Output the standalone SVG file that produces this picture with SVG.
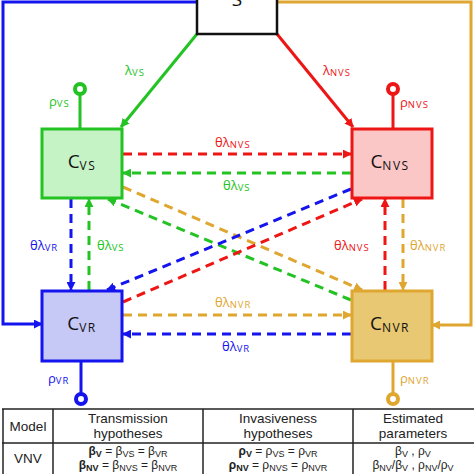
<svg xmlns="http://www.w3.org/2000/svg" width="474" height="474" viewBox="0 0 474 474">
<defs>
<style>
.g{stroke:#22c322}.r{stroke:#ee1515}.b{stroke:#1414ee}.y{stroke:#dfa630}
.ln{fill:none;stroke-width:3}
.d{stroke-dasharray:9 6}
.tg{fill:#22c322}.tr{fill:#ee1515}.tb{fill:#1414ee}.ty{fill:#dfa630}
.lbl{font-family:"Open Sans","DejaVu Sans",sans-serif;font-size:13px}
.sub{font-size:9.5px;letter-spacing:1px}
.node{stroke-width:3}
.nt{font-family:"Open Sans","DejaVu Sans",sans-serif;font-size:19px;fill:#111}
.ns{font-size:12px;letter-spacing:1.5px}
.tab{font-family:"Liberation Sans",Arial,sans-serif;font-size:13.5px;fill:#222}
.row{font-size:12px}
.ts{font-size:9px}
.tl{stroke:#222;stroke-width:1.5}
</style>
<marker id="ag" viewBox="0 0 10 10" refX="9" refY="5" markerWidth="9" markerHeight="9" markerUnits="userSpaceOnUse" orient="auto"><path d="M0,0 L10,5 L0,10 z" fill="#22c322"/></marker>
<marker id="ar" viewBox="0 0 10 10" refX="9" refY="5" markerWidth="9" markerHeight="9" markerUnits="userSpaceOnUse" orient="auto"><path d="M0,0 L10,5 L0,10 z" fill="#ee1515"/></marker>
<marker id="ab" viewBox="0 0 10 10" refX="9" refY="5" markerWidth="9" markerHeight="9" markerUnits="userSpaceOnUse" orient="auto"><path d="M0,0 L10,5 L0,10 z" fill="#1414ee"/></marker>
<marker id="ay" viewBox="0 0 10 10" refX="9" refY="5" markerWidth="9" markerHeight="9" markerUnits="userSpaceOnUse" orient="auto"><path d="M0,0 L10,5 L0,10 z" fill="#dfa630"/></marker>
</defs>
<rect width="474" height="474" fill="#fff"/>

<g id="connectors">
<path class="ln b" d="M197,2 H3 V324 H42" marker-end="url(#ab)"/>
<path class="ln y" d="M277,2 H471 V325 H432" marker-end="url(#ay)"/>
<path class="ln g" d="M197,34 L121,127" marker-end="url(#ag)"/>
<path class="ln r" d="M277,34 L353,127" marker-end="url(#ar)"/>
<path class="ln d r" d="M123,154 H351" marker-end="url(#ar)"/>
<path class="ln d g" d="M351,173 H123" marker-end="url(#ag)"/>
<path class="ln d y" d="M123,315 H351" marker-end="url(#ay)"/>
<path class="ln d b" d="M351,334 H123" marker-end="url(#ab)"/>
<path class="ln d b" d="M71,199 V290" marker-end="url(#ab)"/>
<path class="ln d g" d="M89,290 V199" marker-end="url(#ag)"/>
<path class="ln d r" d="M385,290 V199" marker-end="url(#ar)"/>
<path class="ln d y" d="M403,199 V290" marker-end="url(#ay)"/>
<path class="ln d y" d="M123,187 L362,290" marker-end="url(#ay)"/>
<path class="ln d g" d="M351,300 L108,199" marker-end="url(#ag)"/>
<path class="ln d b" d="M351,189 L107,290" marker-end="url(#ab)"/>
<path class="ln d r" d="M123,302 L362,199" marker-end="url(#ar)"/>
<path class="ln g" d="M80,128 V95"/>
<circle cx="80" cy="89" r="5" fill="#fff" stroke="#22c322" stroke-width="4"/>
<path class="ln r" d="M393,128 V95"/>
<circle cx="393" cy="89" r="5" fill="#fff" stroke="#ee1515" stroke-width="4"/>
<path class="ln b" d="M81,362 V393"/>
<circle cx="81" cy="399" r="5" fill="#fff" stroke="#1414ee" stroke-width="4"/>
<path class="ln y" d="M393,362 V393"/>
<circle cx="393" cy="399" r="5" fill="#fff" stroke="#dfa630" stroke-width="4"/>
</g>

<g id="labels" class="lbl">
<text class="tg" x="125" y="75">λ<tspan class="sub" dy="1">VS</tspan></text>
<text class="tr" x="323" y="75">λ<tspan class="sub" dy="1">NVS</tspan></text>
<text class="tg" x="49" y="106">ρ<tspan class="sub" dy="1">VS</tspan></text>
<text class="tr" x="400" y="107">ρ<tspan class="sub" dy="1">NVS</tspan></text>
<text class="tb" x="48" y="383">ρ<tspan class="sub" dy="1">VR</tspan></text>
<text class="ty" x="400" y="383">ρ<tspan class="sub" dy="1">NVR</tspan></text>
<text class="tr" x="215" y="147">θλ<tspan class="sub" dy="1">NVS</tspan></text>
<text class="tg" x="223" y="190">θλ<tspan class="sub" dy="1">VS</tspan></text>
<text class="ty" x="215" y="307">θλ<tspan class="sub" dy="1">NVR</tspan></text>
<text class="tb" x="222" y="351">θλ<tspan class="sub" dy="1">VR</tspan></text>
<text class="tb" x="30" y="250">θλ<tspan class="sub" dy="1">VR</tspan></text>
<text class="tg" x="97" y="250">θλ<tspan class="sub" dy="1">VS</tspan></text>
<text class="tr" x="334" y="250">θλ<tspan class="sub" dy="1">NVS</tspan></text>
<text class="ty" x="410" y="250">θλ<tspan class="sub" dy="1">NVR</tspan></text>
</g>

<g id="S">
<rect x="197" y="-3" width="80" height="37" fill="#fff" stroke="#111" stroke-width="2.5"/>
<text x="237" y="6" text-anchor="middle" class="nt">S</text>
</g>
<g id="CVS">
<rect class="node g" x="42" y="129" width="80" height="69" fill="#c6f3c6"/>
<text x="82" y="168" text-anchor="middle" class="nt">C<tspan class="ns" dy="2">VS</tspan></text>
</g>
<g id="CNVS">
<rect class="node r" x="352" y="129" width="80" height="69" fill="#fbc6c6"/>
<text x="390" y="168" text-anchor="middle" class="nt">C<tspan class="ns" dy="2">NVS</tspan></text>
</g>
<g id="CVR">
<rect class="node b" x="42" y="291" width="80" height="70" fill="#c6c8f5"/>
<text x="82" y="330" text-anchor="middle" class="nt">C<tspan class="ns" dy="2">VR</tspan></text>
</g>
<g id="CNVR">
<rect class="node y" x="352" y="291" width="80" height="70" fill="#e8c872"/>
<text x="390" y="330" text-anchor="middle" class="nt">C<tspan class="ns" dy="2">NVR</tspan></text>
</g>

<g id="table">
<line class="tl" x1="2" y1="409" x2="474" y2="409" stroke-width="2"/>
<line class="tl" x1="2" y1="443" x2="474" y2="443" stroke-width="2"/>
<line class="tl" x1="3" y1="409" x2="3" y2="474"/>
<line class="tl" x1="53" y1="409" x2="53" y2="474"/>
<line class="tl" x1="203" y1="409" x2="203" y2="474"/>
<line class="tl" x1="353" y1="409" x2="353" y2="474"/>
<g class="tab" text-anchor="middle">
<text x="28" y="431">Model</text>
<text x="128" y="423">Transmission</text>
<text x="128" y="438">hypotheses</text>
<text x="278" y="423">Invasiveness</text>
<text x="278" y="438">hypotheses</text>
<text x="413" y="423">Estimated</text>
<text x="413" y="438">parameters</text>
<text x="28" y="463">VNV</text>
</g>
<g class="tab row" text-anchor="middle">
<text x="128" y="455"><tspan font-weight="bold">β<tspan class="ts" dy="1.5">V</tspan></tspan><tspan dy="-1.5"> =  β</tspan><tspan class="ts" dy="1.5">VS</tspan><tspan dy="-1.5"> = β</tspan><tspan class="ts" dy="1.5">VR</tspan></text>
<text x="128" y="469"><tspan font-weight="bold">β<tspan class="ts" dy="1.5">NV</tspan></tspan><tspan dy="-1.5">  =  β</tspan><tspan class="ts" dy="1.5">NVS</tspan><tspan dy="-1.5"> = β</tspan><tspan class="ts" dy="1.5">NVR</tspan></text>
<text x="278" y="455"><tspan font-weight="bold">ρ<tspan class="ts" dy="1.5">V</tspan></tspan><tspan dy="-1.5"> =  ρ</tspan><tspan class="ts" dy="1.5">VS</tspan><tspan dy="-1.5"> = ρ</tspan><tspan class="ts" dy="1.5">VR</tspan></text>
<text x="278" y="469"><tspan font-weight="bold">ρ<tspan class="ts" dy="1.5">NV</tspan></tspan><tspan dy="-1.5">  =  ρ</tspan><tspan class="ts" dy="1.5">NVS</tspan><tspan dy="-1.5"> = ρ</tspan><tspan class="ts" dy="1.5">NVR</tspan></text>
<text x="413" y="455">β<tspan class="ts" dy="1.5">V</tspan><tspan dy="-1.5"> , ρ</tspan><tspan class="ts" dy="1.5">V</tspan></text>
<text x="413" y="469">β<tspan class="ts" dy="1.5">NV</tspan><tspan dy="-1.5">/β</tspan><tspan class="ts" dy="1.5">V</tspan><tspan dy="-1.5"> , ρ</tspan><tspan class="ts" dy="1.5">NV</tspan><tspan dy="-1.5">/ρ</tspan><tspan class="ts" dy="1.5">V</tspan></text>
</g>
</g>
</svg>
